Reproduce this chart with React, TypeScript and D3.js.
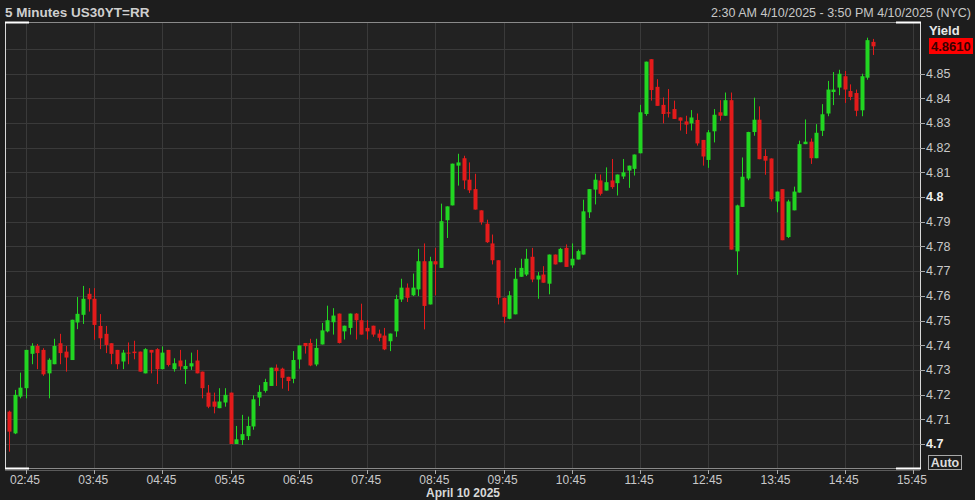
import React from "react";
import * as d3 from "d3";

const TITLE = "5 Minutes US30YT=RR";
const RANGE_LABEL = "2:30 AM 4/10/2025 - 3:50 PM 4/10/2025 (NYC)";
const LAST_LABEL = "4.8610";
const DATE_LABEL = "April 10 2025";

const START = new Date(2025, 3, 10, 2, 30);
const BAR_MINUTES = 5;

const opens = [
  4.7131, 4.7043, 4.7192, 4.7226, 4.7365, 4.7397, 4.7381, 4.7286, 4.7323, 4.7408,
  4.7374, 4.7340, 4.7492, 4.7523, 4.7608, 4.7588, 4.7478, 4.7446, 4.7408, 4.7381,
  4.7334, 4.7370, 4.7374, 4.7374, 4.7286, 4.7381, 4.7384, 4.7303, 4.7381, 4.7303,
  4.7338, 4.7303, 4.7314, 4.7338, 4.7293, 4.7208, 4.7172, 4.7145, 4.7168, 4.7208,
  4.7000, 4.7016, 4.7032, 4.7071, 4.7188, 4.7215, 4.7235, 4.7309, 4.7305, 4.7272,
  4.7264, 4.7342, 4.7409, 4.7409, 4.7322, 4.7403, 4.7456, 4.7493, 4.7528, 4.7456,
  4.7470, 4.7528, 4.7501, 4.7470, 4.7479, 4.7447, 4.7439, 4.7416, 4.7456, 4.7585,
  4.7633, 4.7602, 4.7626, 4.7740, 4.7565, 4.7740, 4.7713, 4.7906, 4.7966, 4.8127,
  4.8157, 4.8070, 4.8032, 4.7946, 4.7892, 4.7812, 4.7744, 4.7592, 4.7507, 4.7525,
  4.7677, 4.7686, 4.7758, 4.7666, 4.7686, 4.7649, 4.7767, 4.7736, 4.7794, 4.7723,
  4.7747, 4.7767, 4.7938, 4.8030, 4.8067, 4.8026, 4.8067, 4.8056, 4.8083, 4.8107,
  4.8114, 4.8177, 4.8336, 4.8558, 4.8446, 4.8373, 4.8343, 4.8356, 4.8322, 4.8306,
  4.8298, 4.8312, 4.8231, 4.8150, 4.8266, 4.8343, 4.8329, 4.8392, 4.7780, 4.7960,
  4.8075, 4.8263, 4.8313, 4.8166, 4.8156, 4.7982, 4.8032, 4.7838, 4.7946, 4.8018,
  4.8214, 4.8224, 4.8157, 4.8268, 4.8338, 4.8425, 4.8443, 4.8489, 4.8429, 4.8421,
  4.8351, 4.8483, 4.8628,
];
const highs = [
  4.7135, 4.7219, 4.7289, 4.7381, 4.7408, 4.7405, 4.7388, 4.7347, 4.7426, 4.7446,
  4.7397, 4.7503, 4.7595, 4.7640, 4.7631, 4.7631, 4.7526, 4.7478, 4.7408, 4.7381,
  4.7381, 4.7411, 4.7418, 4.7374, 4.7388, 4.7381, 4.7388, 4.7395, 4.7381, 4.7347,
  4.7381, 4.7341, 4.7370, 4.7381, 4.7293, 4.7239, 4.7208, 4.7226, 4.7226, 4.7208,
  4.7073, 4.7118, 4.7111, 4.7197, 4.7238, 4.7264, 4.7309, 4.7322, 4.7309, 4.7272,
  4.7376, 4.7399, 4.7409, 4.7426, 4.7426, 4.7490, 4.7560, 4.7550, 4.7528, 4.7479,
  4.7528, 4.7530, 4.7568, 4.7501, 4.7479, 4.7463, 4.7470, 4.7447, 4.7604, 4.7669,
  4.7650, 4.7690, 4.7790, 4.7812, 4.7758, 4.7794, 4.7973, 4.7962, 4.8135, 4.8175,
  4.8167, 4.8140, 4.8094, 4.7946, 4.7908, 4.7848, 4.7744, 4.7592, 4.7619, 4.7713,
  4.7750, 4.7790, 4.7794, 4.7696, 4.7720, 4.7767, 4.7767, 4.7794, 4.7808, 4.7812,
  4.7787, 4.7989, 4.8032, 4.8094, 4.8091, 4.8120, 4.8154, 4.8091, 4.8154, 4.8127,
  4.8172, 4.8373, 4.8548, 4.8558, 4.8477, 4.8403, 4.8437, 4.8390, 4.8322, 4.8329,
  4.8352, 4.8338, 4.8231, 4.8271, 4.8356, 4.8392, 4.8423, 4.8423, 4.7969, 4.8160,
  4.8264, 4.8402, 4.8367, 4.8193, 4.8156, 4.8022, 4.8032, 4.7989, 4.8042, 4.8228,
  4.8314, 4.8237, 4.8295, 4.8376, 4.8470, 4.8506, 4.8515, 4.8510, 4.8456, 4.8435,
  4.8499, 4.8645, 4.8640,
];
const lows = [
  4.6969, 4.7040, 4.7185, 4.7185, 4.7323, 4.7303, 4.7276, 4.7185, 4.7323, 4.7323,
  4.7293, 4.7340, 4.7465, 4.7486, 4.7536, 4.7422, 4.7384, 4.7368, 4.7323, 4.7303,
  4.7303, 4.7323, 4.7343, 4.7293, 4.7286, 4.7286, 4.7243, 4.7303, 4.7314, 4.7293,
  4.7300, 4.7243, 4.7300, 4.7286, 4.7185, 4.7145, 4.7124, 4.7145, 4.7151, 4.7000,
  4.7000, 4.6996, 4.7016, 4.7058, 4.7154, 4.7208, 4.7235, 4.7235, 4.7224, 4.7215,
  4.7246, 4.7305, 4.7366, 4.7315, 4.7315, 4.7403, 4.7452, 4.7443, 4.7407, 4.7423,
  4.7443, 4.7423, 4.7443, 4.7423, 4.7434, 4.7416, 4.7380, 4.7376, 4.7434, 4.7575,
  4.7575, 4.7599, 4.7599, 4.7464, 4.7565, 4.7602, 4.7713, 4.7834, 4.7966, 4.8046,
  4.8032, 4.8016, 4.7949, 4.7888, 4.7814, 4.7727, 4.7565, 4.7489, 4.7505, 4.7525,
  4.7677, 4.7680, 4.7655, 4.7588, 4.7653, 4.7606, 4.7727, 4.7736, 4.7717, 4.7713,
  4.7747, 4.7767, 4.7915, 4.7970, 4.8006, 4.8026, 4.8033, 4.8006, 4.8073, 4.8037,
  4.8087, 4.8177, 4.8329, 4.8390, 4.8369, 4.8298, 4.8322, 4.8316, 4.8269, 4.8255,
  4.8269, 4.8208, 4.8127, 4.8118, 4.8221, 4.8309, 4.8329, 4.7787, 4.7685, 4.7960,
  4.8068, 4.8248, 4.8153, 4.8090, 4.7982, 4.7938, 4.7825, 4.7834, 4.7946, 4.8018,
  4.8214, 4.8134, 4.8157, 4.8247, 4.8327, 4.8372, 4.8412, 4.8381, 4.8392, 4.8327,
  4.8327, 4.8475, 4.8575,
];
const closes = [
  4.7050, 4.7199, 4.7228, 4.7381, 4.7397, 4.7368, 4.7282, 4.7341, 4.7397, 4.7368,
  4.7350, 4.7503, 4.7527, 4.7588, 4.7586, 4.7482, 4.7428, 4.7401, 4.7365, 4.7323,
  4.7370, 4.7368, 4.7368, 4.7293, 4.7384, 4.7370, 4.7303, 4.7370, 4.7320, 4.7327,
  4.7314, 4.7316, 4.7327, 4.7286, 4.7226, 4.7151, 4.7151, 4.7172, 4.7199, 4.7000,
  4.7019, 4.7040, 4.7073, 4.7181, 4.7211, 4.7251, 4.7309, 4.7295, 4.7268, 4.7255,
  4.7340, 4.7399, 4.7396, 4.7318, 4.7389, 4.7460, 4.7501, 4.7520, 4.7409, 4.7479,
  4.7528, 4.7501, 4.7443, 4.7456, 4.7443, 4.7430, 4.7383, 4.7447, 4.7587, 4.7633,
  4.7592, 4.7633, 4.7740, 4.7559, 4.7740, 4.7727, 4.7902, 4.7962, 4.8135, 4.8140,
  4.8067, 4.8027, 4.7949, 4.7898, 4.7817, 4.7744, 4.7592, 4.7515, 4.7602, 4.7669,
  4.7713, 4.7750, 4.7666, 4.7682, 4.7653, 4.7767, 4.7727, 4.7790, 4.7717, 4.7750,
  4.7781, 4.7942, 4.8032, 4.8070, 4.8013, 4.8060, 4.8040, 4.8091, 4.8100, 4.8127,
  4.8172, 4.8343, 4.8548, 4.8433, 4.8369, 4.8336, 4.8338, 4.8316, 4.8309, 4.8293,
  4.8322, 4.8217, 4.8164, 4.8262, 4.8333, 4.8329, 4.8392, 4.7787, 4.7966, 4.8082,
  4.8263, 4.8313, 4.8153, 4.8147, 4.7991, 4.8022, 4.7825, 4.7982, 4.8022, 4.8214,
  4.8224, 4.8157, 4.8260, 4.8335, 4.8435, 4.8435, 4.8499, 4.8435, 4.8405, 4.8349,
  4.8489, 4.8635, 4.8610,
];

const yTicks = [4.7, 4.71, 4.72, 4.73, 4.74, 4.75, 4.76, 4.77, 4.78, 4.79, 4.8, 4.81, 4.82, 4.83, 4.84, 4.85];
const yGrid = [...yTicks, 4.86];
const boldTicks = [4.7, 4.8];
const xTickHours = [2, 3, 4, 5, 6, 7, 8, 9, 10, 11, 12, 13, 14, 15];

const W = 975;
const H = 500;
const L = 5, R = 920, T = 22, B = 468;

const BG = "#1d1d1d";
const PLOT_BG = "#222222";
const GRID = "#3a3a3a";
const GREEN = "#22d622";
const RED = "#e31b1b";
const TEXT = "#c9c9c9";
const FONT = "'Liberation Sans', Arial, sans-serif";

export default function App() {
  React.useEffect(() => {
    document.body.style.margin = "0";
    document.body.style.background = BG;
  }, []);

  const x = d3
    .scaleTime()
    .domain([new Date(2025, 3, 10, 2, 26, 30), new Date(2025, 3, 10, 15, 51, 12)])
    .range([L, R]);
  const y = d3.scaleLinear().domain([4.7, 4.85]).range([444, 73.5]);

  const bars = opens.map((o, i) => ({
    t: d3.timeMinute.offset(START, i * BAR_MINUTES),
    o,
    h: highs[i],
    l: lows[i],
    c: closes[i],
  }));
  const bw = 4;
  const xTicks = xTickHours.map((h) => new Date(2025, 3, 10, h, 45));
  const fmt = d3.timeFormat("%H:%M");

  return (
    <svg width={W} height={H} style={{ position: "absolute", left: 0, top: 0, background: BG }} fontFamily={FONT}>
      <rect x={0} y={0} width={W} height={H} fill={BG} />
      <rect x={L} y={T} width={R - L} height={B - T} fill={PLOT_BG} />
      {/* grid */}
      {yGrid.map((v) => (
        <line key={"gy" + v} x1={L} x2={R} y1={Math.round(y(v)) + 0.5} y2={Math.round(y(v)) + 0.5} stroke={GRID} strokeWidth={1} />
      ))}
      {xTicks.map((t) => (
        <line key={"gx" + t.getTime()} x1={Math.round(x(t)) + 0.5} x2={Math.round(x(t)) + 0.5} y1={T} y2={B} stroke={GRID} strokeWidth={1} />
      ))}
      {/* candles */}
      {bars.map((b, i) => {
        const cx = Math.round(x(b.t));
        const up = b.c >= b.o;
        const col = up ? GREEN : RED;
        const top = y(Math.max(b.o, b.c));
        const bot = y(Math.min(b.o, b.c));
        return (
          <g key={i}>
            <line x1={cx + 0.5} x2={cx + 0.5} y1={y(b.h)} y2={y(b.l)} stroke={col} strokeWidth={1} />
            <rect x={cx - bw / 2 + 0.5} y={top} width={bw} height={Math.max(1, bot - top)} fill={col} />
          </g>
        );
      })}
      {/* frame */}
      <line x1={L} x2={R} y1={T + 0.5} y2={T + 0.5} stroke="#8a8a8a" />
      <line x1={L} x2={R} y1={B + 0.5} y2={B + 0.5} stroke="#8a8a8a" />
      <line x1={L + 0.5} x2={L + 0.5} y1={T} y2={B + 1} stroke="#d8d8d8" />
      <line x1={R + 0.5} x2={R + 0.5} y1={T} y2={B + 1} stroke="#d8d8d8" />
      <line x1={L} x2={L + 24} y1={T + 0.5} y2={T + 0.5} stroke="#ffffff" strokeWidth={2} />
      <line x1={R - 24} x2={R + 1} y1={T + 0.5} y2={T + 0.5} stroke="#ffffff" strokeWidth={2} />
      <line x1={L} x2={L + 24} y1={B + 0.5} y2={B + 0.5} stroke="#ffffff" strokeWidth={2} />
      <line x1={R - 24} x2={R + 1} y1={B + 0.5} y2={B + 0.5} stroke="#ffffff" strokeWidth={2} />
      {/* y axis */}
      {yTicks.map((v) => {
        const bold = boldTicks.some((b) => Math.abs(b - v) < 1e-9);
        return (
          <g key={"yt" + v}>
            <line x1={R} x2={R + 5} y1={Math.round(y(v)) + 0.5} y2={Math.round(y(v)) + 0.5} stroke="#aaaaaa" />
            <text
              x={R + 6}
              y={y(v)}
              dy="0.35em"
              fontSize={12.5}
              fill={bold ? "#f0f0f0" : TEXT}
              fontWeight={bold ? "bold" : "normal"}
            >
              {d3.format("")(+v.toFixed(2))}
            </text>
          </g>
        );
      })}
      <text x={929} y={35} fontSize={13} fontWeight="bold" fill="#e8e8e8">Yield</text>
      <rect x={929} y={38} width={44} height={16} fill="#ff0000" />
      <text x={931} y={51} fontSize={13} fontWeight="bold" fill="#3a0000">{LAST_LABEL}</text>
      <rect x={928.5} y={455.5} width={33} height={14} fill="none" stroke="#a8a8a8" />
      <text x={945} y={467} fontSize={12.5} fontWeight="bold" fill="#dcdcdc" textAnchor="middle">Auto</text>
      {/* x axis */}
      <line x1={L} x2={R} y1={B + 2.5} y2={B + 2.5} stroke="#5a5a5a" />
      {xTicks.map((t) => (
        <g key={"xt" + t.getTime()}>
          <line x1={Math.round(x(t)) + 0.5} x2={Math.round(x(t)) + 0.5} y1={B + 2} y2={B + 6} stroke="#aaaaaa" />
          <text x={x(t) - 1} y={484} fontSize={12} fill={TEXT} textAnchor="middle">{fmt(t)}</text>
        </g>
      ))}
      <text x={463} y={497} fontSize={12} fontWeight="bold" fill="#d8d8d8" textAnchor="middle">{DATE_LABEL}</text>
      {/* header */}
      <text x={5} y={17} fontSize={13.5} fontWeight="bold" fill="#cfcfcf">{TITLE}</text>
      <text x={971} y={17} fontSize={12.5} fill="#c8c8c8" textAnchor="end">{RANGE_LABEL}</text>
    </svg>
  );
}
